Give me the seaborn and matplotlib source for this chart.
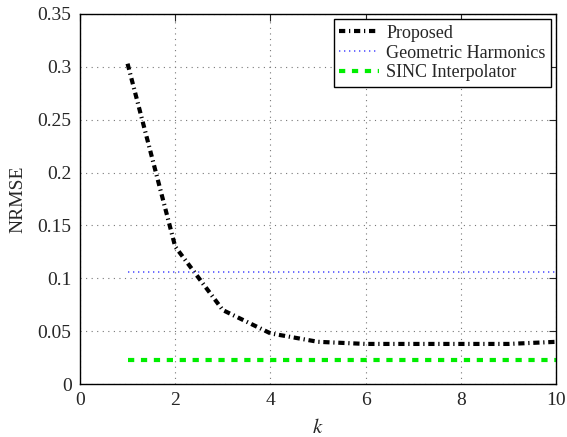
import numpy as np
import pandas as pd
import matplotlib
matplotlib.use("Agg")
import matplotlib.pyplot as plt
import seaborn as sns

# data
k = [1, 2, 3, 4, 5, 6, 7, 8, 9, 10]
proposed = [0.303, 0.130, 0.070, 0.048, 0.040, 0.038, 0.038, 0.038, 0.038, 0.040]
geometric = [0.106] * 10
sinc = [0.023] * 10

df = pd.DataFrame({
    'k': k,
    'Proposed': proposed,
    'Geometric Harmonics': geometric,
    'SINC Interpolator': sinc
})

sns.set_style("white")
plt.rcParams['font.family'] = ['Liberation Serif', 'DejaVu Serif']
plt.rcParams['mathtext.fontset'] = 'stix'

fig = plt.figure(figsize=(5.67, 4.37), dpi=100)
ax = fig.add_axes([0.141, 0.121, 0.840, 0.847])

sns.lineplot(data=df, x='k', y='Proposed', ax=ax, color='black',
             linewidth=3, linestyle=(0, (1.5, 0.9, 0.3, 0.9)), label='Proposed')
sns.lineplot(data=df, x='k', y='Geometric Harmonics', ax=ax, color='#5555ff',
             linewidth=1.2, linestyle=(0, (0.8, 2.2)), label='Geometric Harmonics')
sns.lineplot(data=df, x='k', y='SINC Interpolator', ax=ax, color='#00ee00',
             linewidth=3, linestyle=(0, (1.5, 1.6)), label='SINC Interpolator')

ax.set_xlim(0, 10)
ax.set_ylim(0, 0.35)
ax.set_xticks([0, 2, 4, 6, 8, 10])
ax.set_yticks([0, 0.05, 0.1, 0.15, 0.2, 0.25, 0.3, 0.35])
ax.set_yticklabels(['0', '0.05', '0.1', '0.15', '0.2', '0.25', '0.3', '0.35'])
ax.grid(True, linestyle=(0, (1, 4)), color='#777777', linewidth=0.8)
ax.tick_params(direction='in', top=True, right=True, labelsize=14, length=5, pad=6)
for s in ax.spines.values():
    s.set_color('black')
    s.set_linewidth(1)

ax.set_xlabel('$k$', fontsize=15, labelpad=7)
ax.set_ylabel('NRMSE', fontsize=14, labelpad=8)

leg = ax.legend(loc='upper right', fontsize=13, frameon=True, fancybox=False,
                edgecolor='black', borderaxespad=0.3, handlelength=2.2,
                labelspacing=0.15, borderpad=0.3, handletextpad=0.4)
leg.get_frame().set_linewidth(1)
leg.get_frame().set_alpha(1)

fig.savefig('out.png', dpi=100)
